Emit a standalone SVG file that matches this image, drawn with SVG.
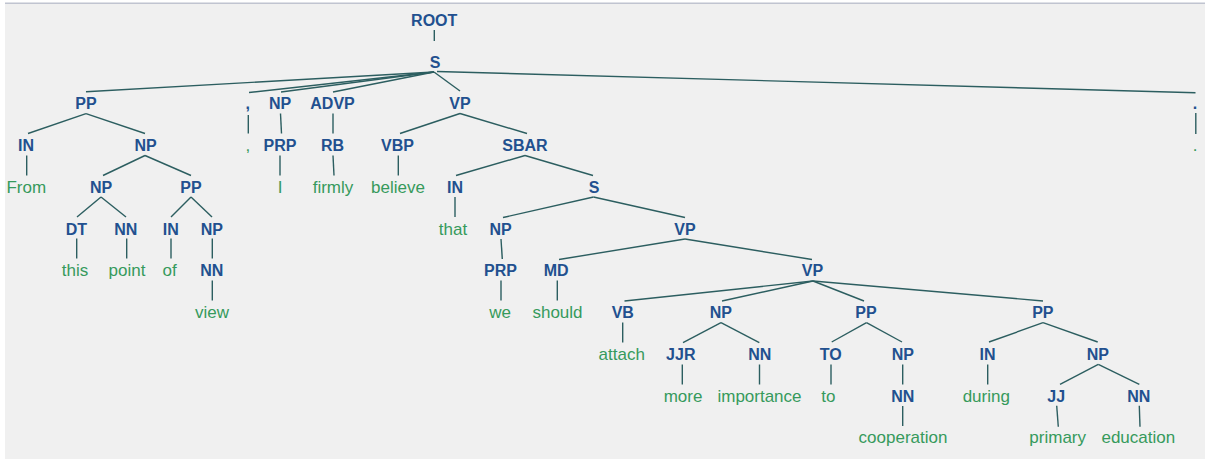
<svg xmlns="http://www.w3.org/2000/svg" width="1206" height="459" viewBox="0 0 1206 459">
<style>
.bg{fill:#f0f0f0}
.lb{font-family:"Liberation Sans",Arial,sans-serif;font-size:16px;font-weight:bold;fill:#22508f;text-anchor:middle}
.wd{font-family:"Liberation Sans",Arial,sans-serif;font-size:17px;fill:#369a5c;text-anchor:middle}
.edges line{stroke:#2c5e60;stroke-width:1.4;fill:none}
</style>
<rect x="0" y="0" width="1206" height="459" fill="#ffffff"/>
<rect class="bg" x="5" y="3" width="1200" height="456"/>
<rect x="5" y="2.5" width="1200" height="1.5" fill="#c0c4d0"/>
<g class="edges">
<line x1="434.3" y1="30" x2="434.3" y2="41"/>
<line x1="434" y1="72" x2="86" y2="91.7"/>
<line x1="434" y1="72" x2="249" y2="92.5"/>
<line x1="434" y1="72" x2="281" y2="92"/>
<line x1="434" y1="72" x2="333" y2="92"/>
<line x1="434" y1="72" x2="460" y2="91"/>
<line x1="437" y1="71.5" x2="1195.5" y2="92.7"/>
<line x1="248.3" y1="115" x2="248.3" y2="133.5"/>
<line x1="86" y1="113.7" x2="28" y2="133.5"/>
<line x1="86" y1="113.7" x2="145" y2="133.5"/>
<line x1="280.5" y1="113.5" x2="281.5" y2="133.5"/>
<line x1="333" y1="113.5" x2="333" y2="133.5"/>
<line x1="460" y1="113.5" x2="400" y2="133.5"/>
<line x1="460" y1="113.5" x2="527" y2="133.5"/>
<line x1="1195.8" y1="113" x2="1195.8" y2="134"/>
<line x1="26.7" y1="155.5" x2="26.7" y2="175.5"/>
<line x1="145" y1="155.5" x2="103" y2="175.5"/>
<line x1="145" y1="155.5" x2="191" y2="175.5"/>
<line x1="280" y1="155.5" x2="280" y2="175.5"/>
<line x1="333" y1="155.5" x2="334" y2="175.5"/>
<line x1="398.3" y1="155.5" x2="398.3" y2="175.5"/>
<line x1="525" y1="155.5" x2="456" y2="175.5"/>
<line x1="525" y1="155.5" x2="593" y2="175.5"/>
<line x1="101" y1="197" x2="77" y2="217"/>
<line x1="101" y1="197" x2="126" y2="217"/>
<line x1="191" y1="197" x2="171" y2="217"/>
<line x1="191" y1="197" x2="212" y2="217"/>
<line x1="455" y1="197" x2="455" y2="217"/>
<line x1="593.5" y1="197" x2="503" y2="217.5"/>
<line x1="593.5" y1="197" x2="685" y2="217.5"/>
<line x1="76.7" y1="238.5" x2="76.7" y2="258.5"/>
<line x1="126.7" y1="238.5" x2="126.7" y2="258.5"/>
<line x1="171" y1="238.5" x2="171" y2="258.5"/>
<line x1="212.3" y1="238.5" x2="212.3" y2="258.5"/>
<line x1="501" y1="239" x2="502.3" y2="259"/>
<line x1="685" y1="239" x2="559" y2="259.5"/>
<line x1="685" y1="239" x2="812" y2="259.5"/>
<line x1="212.3" y1="280.5" x2="212.3" y2="300.5"/>
<line x1="501" y1="280.5" x2="501" y2="300.5"/>
<line x1="557.3" y1="280.5" x2="557.3" y2="300.5"/>
<line x1="813" y1="281" x2="624.5" y2="301"/>
<line x1="813" y1="281" x2="722" y2="301"/>
<line x1="813" y1="281" x2="864" y2="301"/>
<line x1="813" y1="281" x2="1043" y2="301"/>
<line x1="622.7" y1="322.5" x2="622.7" y2="342.5"/>
<line x1="721" y1="322.7" x2="683" y2="342.7"/>
<line x1="721" y1="322.7" x2="759.3" y2="342.7"/>
<line x1="866.5" y1="322.7" x2="831.7" y2="342"/>
<line x1="866.5" y1="322.7" x2="902" y2="342"/>
<line x1="1043" y1="322.7" x2="989" y2="342"/>
<line x1="1043" y1="322.7" x2="1097.7" y2="342"/>
<line x1="682.3" y1="364.5" x2="682.3" y2="384.5"/>
<line x1="759.5" y1="364.5" x2="759.5" y2="384.5"/>
<line x1="831" y1="364.5" x2="831" y2="384.5"/>
<line x1="902.7" y1="364.5" x2="902.7" y2="384.5"/>
<line x1="987.7" y1="364.5" x2="987.7" y2="384.5"/>
<line x1="1098.3" y1="364.3" x2="1060" y2="384.3"/>
<line x1="1098.3" y1="364.3" x2="1139.3" y2="384.3"/>
<line x1="902.7" y1="406" x2="902.7" y2="426"/>
<line x1="1056.7" y1="405.7" x2="1058.3" y2="426.7"/>
<line x1="1139.3" y1="405.7" x2="1140" y2="426.7"/>
</g>
<g id="n-root"><text class="lb" x="434.2" y="25.7">ROOT</text></g>
<g id="n-s"><text class="lb" x="435" y="67.5">S</text></g>
<g id="n-pp1"><text class="lb" x="86" y="109.2">PP</text></g>
<g id="n-comma"><text class="lb" x="247.8" y="109.2">,</text></g>
<g id="n-np-i"><text class="lb" x="280" y="109.2">NP</text></g>
<g id="n-advp"><text class="lb" x="332.5" y="109.2">ADVP</text></g>
<g id="n-vp1"><text class="lb" x="460" y="109.2">VP</text></g>
<g id="n-period"><text class="lb" x="1195" y="109.2">.</text></g>
<g id="n-in-from"><text class="lb" x="26" y="151">IN</text></g>
<g id="n-np1"><text class="lb" x="145.5" y="151">NP</text></g>
<g id="w-comma"><text class="wd" x="247.8" y="151">,</text></g>
<g id="n-prp-i"><text class="lb" x="280" y="151">PRP</text></g>
<g id="n-rb"><text class="lb" x="332.5" y="151">RB</text></g>
<g id="n-vbp"><text class="lb" x="397.5" y="151">VBP</text></g>
<g id="n-sbar"><text class="lb" x="525" y="151">SBAR</text></g>
<g id="w-period"><text class="wd" x="1195" y="151">.</text></g>
<g id="w-from"><text class="wd" x="26.3" y="192.7">From</text></g>
<g id="n-np2"><text class="lb" x="101" y="192.7">NP</text></g>
<g id="n-pp2"><text class="lb" x="191" y="192.7">PP</text></g>
<g id="w-i"><text class="wd" x="280" y="192.7">I</text></g>
<g id="w-firmly"><text class="wd" x="333" y="192.7">firmly</text></g>
<g id="w-believe"><text class="wd" x="398" y="192.7">believe</text></g>
<g id="n-in-that"><text class="lb" x="455" y="192.7">IN</text></g>
<g id="n-s2"><text class="lb" x="594" y="192.7">S</text></g>
<g id="n-dt"><text class="lb" x="76.3" y="234.5">DT</text></g>
<g id="n-nn-point"><text class="lb" x="125.8" y="234.5">NN</text></g>
<g id="n-in-of"><text class="lb" x="170.8" y="234.5">IN</text></g>
<g id="n-np-view"><text class="lb" x="211.8" y="234.5">NP</text></g>
<g id="w-that"><text class="wd" x="453" y="234.5">that</text></g>
<g id="n-np-we"><text class="lb" x="500.5" y="234.5">NP</text></g>
<g id="n-vp2"><text class="lb" x="685" y="234.5">VP</text></g>
<g id="w-this"><text class="wd" x="75" y="276.3">this</text></g>
<g id="w-point"><text class="wd" x="127" y="276.3">point</text></g>
<g id="w-of"><text class="wd" x="169.7" y="276.3">of</text></g>
<g id="n-nn-view"><text class="lb" x="211.8" y="276.3">NN</text></g>
<g id="n-prp-we"><text class="lb" x="500.5" y="276.3">PRP</text></g>
<g id="n-md"><text class="lb" x="556.2" y="276.3">MD</text></g>
<g id="n-vp3"><text class="lb" x="812.5" y="276.3">VP</text></g>
<g id="w-view"><text class="wd" x="212" y="318">view</text></g>
<g id="w-we"><text class="wd" x="500" y="318">we</text></g>
<g id="w-should"><text class="wd" x="557.5" y="318">should</text></g>
<g id="n-vb"><text class="lb" x="622.8" y="318">VB</text></g>
<g id="n-np-imp"><text class="lb" x="720.8" y="318">NP</text></g>
<g id="n-pp-to"><text class="lb" x="866" y="318">PP</text></g>
<g id="n-pp-during"><text class="lb" x="1042.8" y="318">PP</text></g>
<g id="w-attach"><text class="wd" x="621.7" y="359.8">attach</text></g>
<g id="n-jjr"><text class="lb" x="680.8" y="359.8">JJR</text></g>
<g id="n-nn-imp"><text class="lb" x="759.7" y="359.8">NN</text></g>
<g id="n-to"><text class="lb" x="830.8" y="359.8">TO</text></g>
<g id="n-np-coop"><text class="lb" x="902.8" y="359.8">NP</text></g>
<g id="n-in-during"><text class="lb" x="987.5" y="359.8">IN</text></g>
<g id="n-np-edu"><text class="lb" x="1097.8" y="359.8">NP</text></g>
<g id="w-more"><text class="wd" x="683" y="401.5">more</text></g>
<g id="w-importance"><text class="wd" x="759.5" y="401.5">importance</text></g>
<g id="w-to"><text class="wd" x="828.3" y="401.5">to</text></g>
<g id="n-nn-coop"><text class="lb" x="902.8" y="401.5">NN</text></g>
<g id="w-during"><text class="wd" x="986.3" y="401.5">during</text></g>
<g id="n-jj"><text class="lb" x="1056.2" y="401.5">JJ</text></g>
<g id="n-nn-edu"><text class="lb" x="1138.8" y="401.5">NN</text></g>
<g id="w-cooperation"><text class="wd" x="903" y="443.3">cooperation</text></g>
<g id="w-primary"><text class="wd" x="1057.7" y="443.3">primary</text></g>
<g id="w-education"><text class="wd" x="1138.3" y="443.3">education</text></g>
</svg>
